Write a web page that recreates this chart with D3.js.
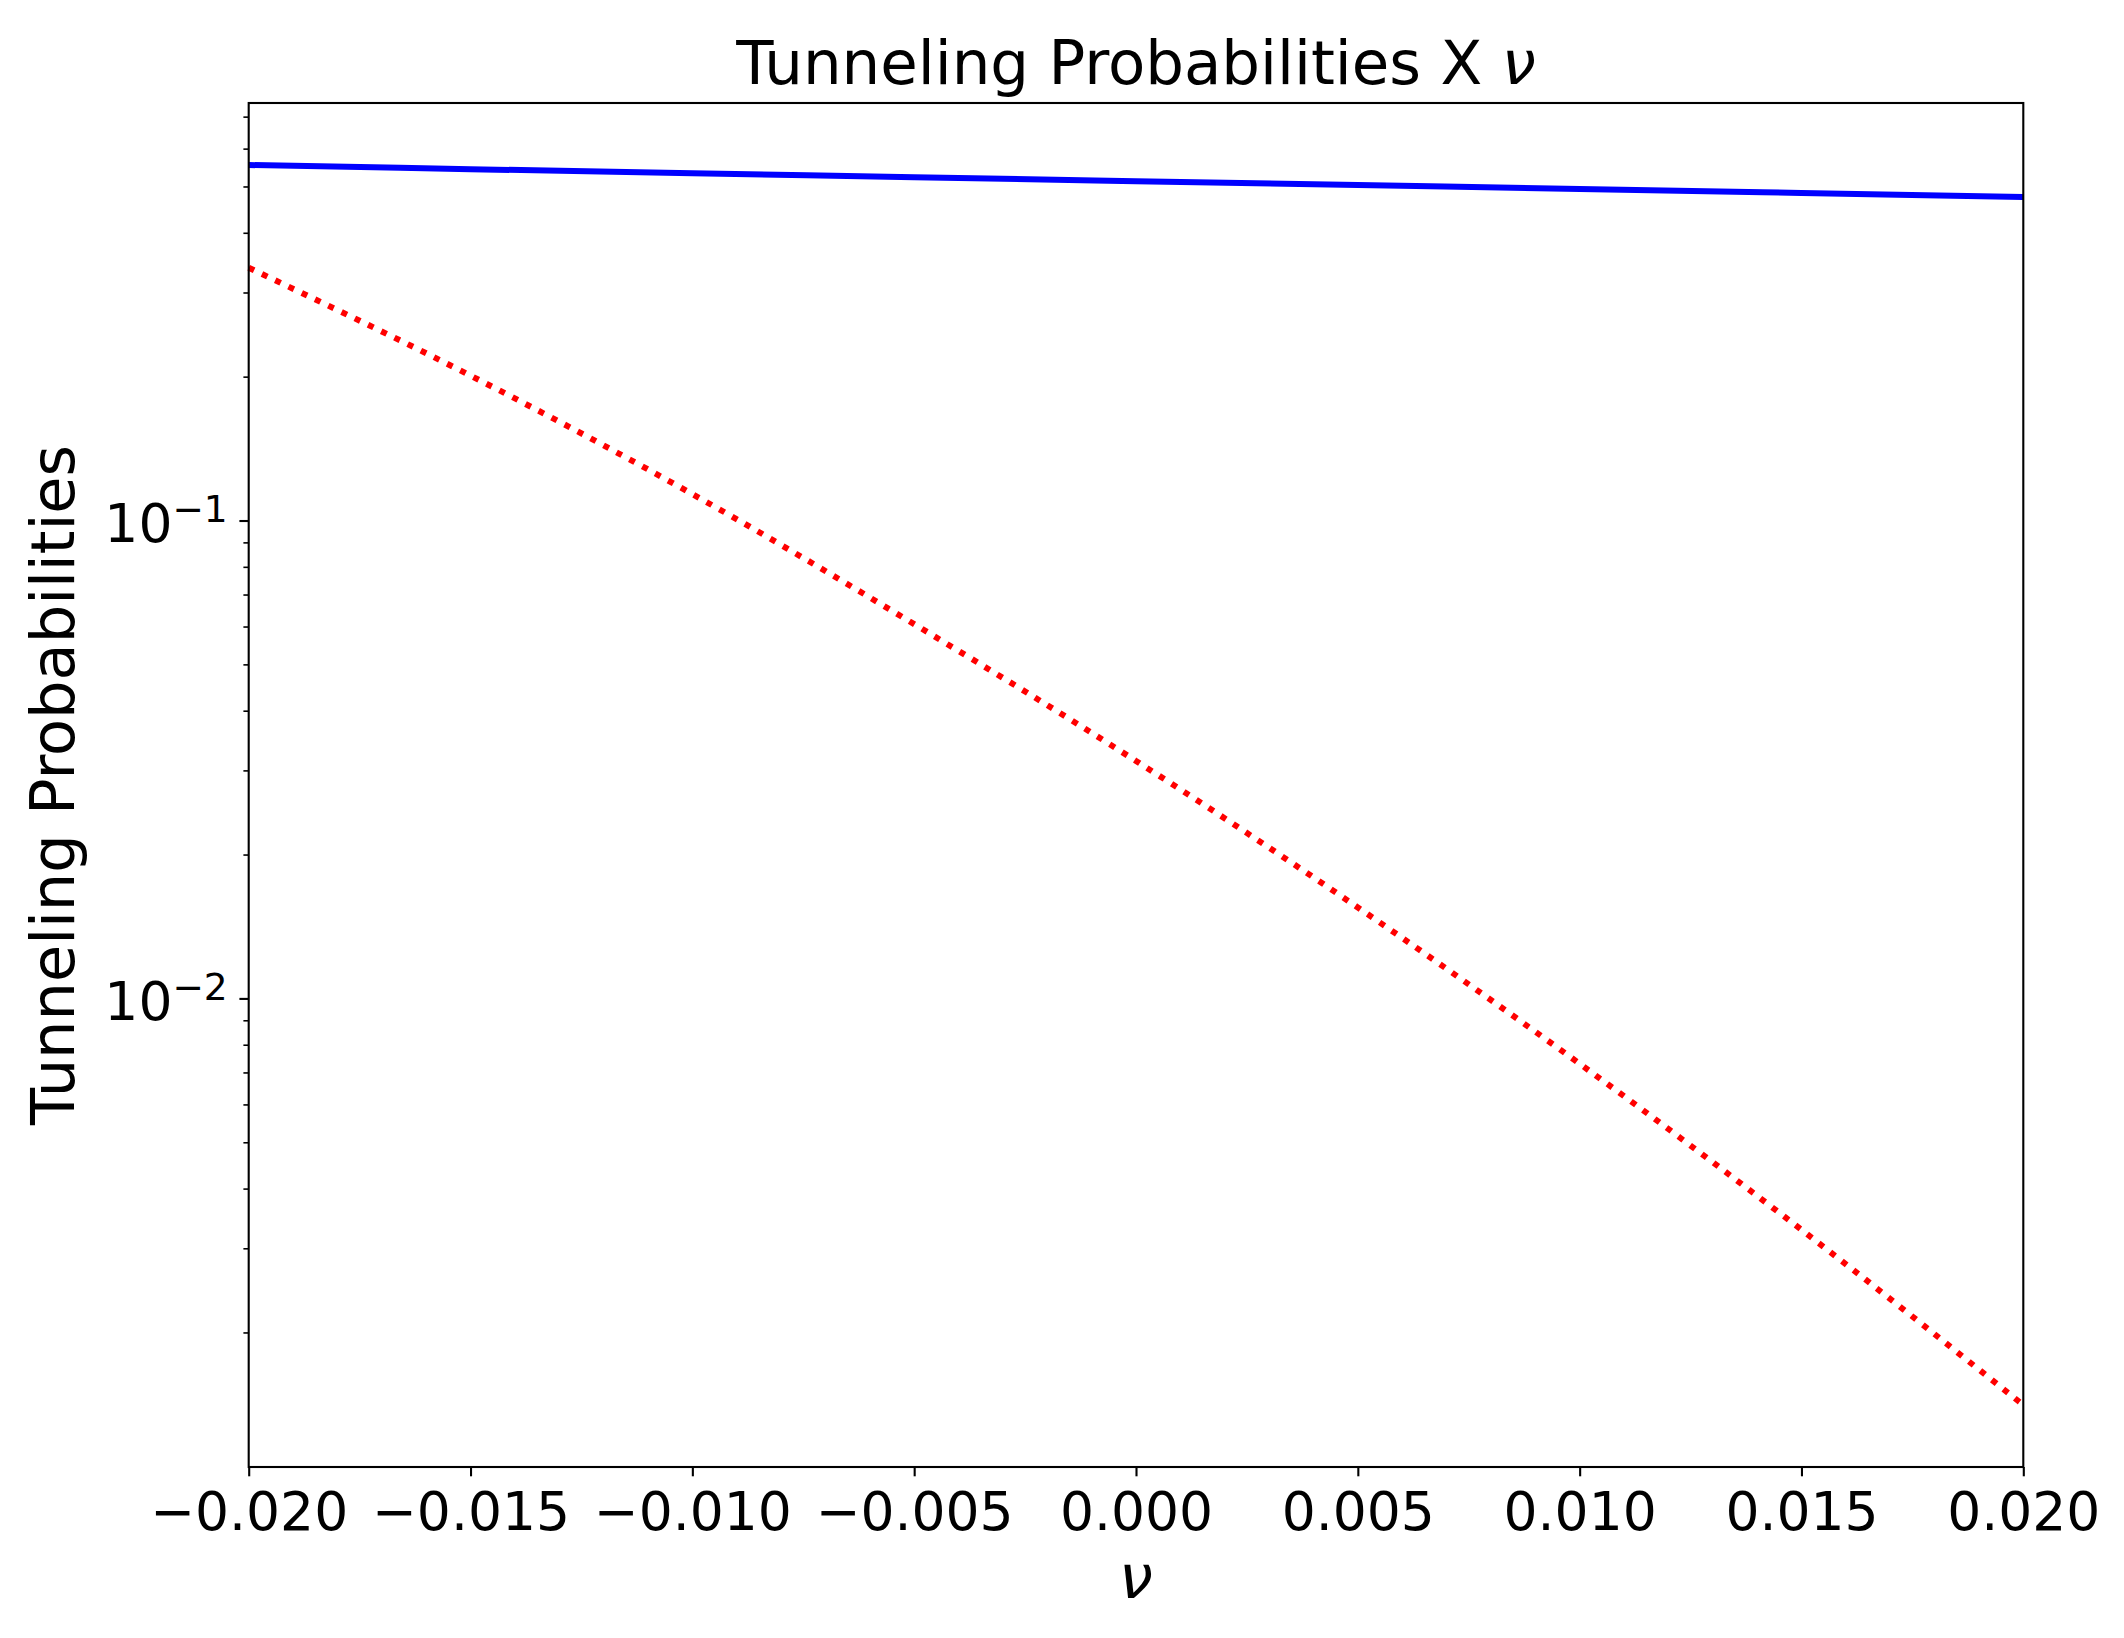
<!DOCTYPE html>
<html>
<head>
<meta charset="utf-8">
<script src="https://cdn.jsdelivr.net/npm/d3@7"></script>
<style>
  html, body { margin: 0; padding: 0; background: #ffffff; }
  svg { display: block; }
  text { font-family: "DejaVu Sans", sans-serif; fill: #000; }
</style>
</head>
<body>
<svg id="chart" width="2124" height="1638"></svg>
<script>
// ---- data ----
const nu = [-0.02, -0.015, -0.01, -0.005, 0.0, 0.005, 0.01, 0.015, 0.02];
const probSolid = [0.5545, 0.5435, 0.533, 0.523, 0.513, 0.5035, 0.494, 0.4845, 0.4755];
const probDotted = [0.338, 0.201, 0.1136, 0.0607, 0.0314, 0.0155, 0.0073, 0.00328, 0.00141];
const xTickValues = [-0.02, -0.015, -0.01, -0.005, 0.0, 0.005, 0.01, 0.015, 0.02];
const yMajorTicks = [0.01, 0.1];
const yMajorExponents = ["−2", "−1"];
const titleText = "Tunneling Probabilities X ";
const yLabelText = "Tunneling Probabilities";
const nuSymbol = "ν";

// ---- layout ----
const W = 2124, H = 1638;
const plot = { left: 248.7, right: 2023.3, top: 103, bottom: 1467 };
const svg = d3.select("#chart");

// ---- scales ----
const x = d3.scaleLinear().domain([-0.02, 0.02]).range([plot.left, plot.right]);
const allVals = probSolid.concat(probDotted);
const lmin = Math.log10(d3.min(allVals)), lmax = Math.log10(d3.max(allVals));
const marg = 0.05 * (lmax - lmin);
const y = d3.scaleLog()
  .domain([Math.pow(10, lmin - marg), Math.pow(10, lmax + marg)])
  .range([plot.bottom, plot.top]);

// minor ticks on log axis
const [dLo, dHi] = y.domain();
const yMinorTicks = [];
for (let e = Math.floor(Math.log10(dLo)); e <= Math.ceil(Math.log10(dHi)); e++) {
  for (let m = 2; m <= 9; m++) {
    const v = m * Math.pow(10, e);
    if (v >= dLo && v <= dHi) yMinorTicks.push(v);
  }
}

// ---- lines ----
const line = d3.line()
  .x(d => x(d[0]))
  .y(d => y(d[1]))
  .curve(d3.curveMonotoneX);

svg.append("path")
  .datum(nu.map((v, i) => [v, probSolid[i]]))
  .attr("d", line)
  .attr("fill", "none")
  .attr("stroke", "#0000ff")
  .attr("stroke-width", 6);

svg.append("path")
  .datum(nu.map((v, i) => [v, probDotted[i]]))
  .attr("d", line)
  .attr("fill", "none")
  .attr("stroke", "#ff0000")
  .attr("stroke-width", 6)
  .attr("stroke-linecap", "butt")
  .attr("stroke-dasharray", "6,8.7");

// ---- axes ----
const xAxis = d3.axisBottom(x)
  .tickValues(xTickValues)
  .tickSize(9.3)
  .tickFormat(d => d3.format(".3f")(d).replace("-", "−"));
const gx = svg.append("g")
  .attr("transform", `translate(0,${plot.bottom})`)
  .call(xAxis);
gx.select(".domain").remove();
gx.selectAll(".tick line").attr("stroke", "#000").attr("stroke-width", 2.1);
gx.selectAll(".tick text")
  .attr("y", 63).attr("dy", null)
  .attr("font-size", 53.5)
  .attr("font-family", "DejaVu Sans")
  .attr("fill", "#000");

const yMinorAxis = d3.axisLeft(y).tickValues(yMinorTicks).tickSize(5.3).tickFormat("");
const gyMinor = svg.append("g")
  .attr("transform", `translate(${plot.left},0)`)
  .call(yMinorAxis);
gyMinor.select(".domain").remove();
gyMinor.selectAll(".tick line").attr("stroke", "#000").attr("stroke-width", 1.6);

const yAxis = d3.axisLeft(y).tickValues(yMajorTicks).tickSize(9.3).tickFormat(() => "");
const gy = svg.append("g")
  .attr("transform", `translate(${plot.left},0)`)
  .call(yAxis);
gy.select(".domain").remove();
gy.selectAll(".tick line").attr("stroke", "#000").attr("stroke-width", 2.1);
gy.selectAll(".tick text").each(function(d) {
  const t = d3.select(this);
  t.text(null)
    .attr("x", -21).attr("y", 21).attr("dy", null)
    .attr("text-anchor", "end")
    .attr("font-size", 53.5)
    .attr("font-family", "DejaVu Sans")
    .attr("fill", "#000");
  t.append("tspan").text("10");
  t.append("tspan").attr("font-size", 37.5).attr("dy", -20).text(yMajorExponents[yMajorTicks.indexOf(d)]);
});

// ---- frame ----
svg.append("rect")
  .attr("x", plot.left).attr("y", plot.top)
  .attr("width", plot.right - plot.left)
  .attr("height", plot.bottom - plot.top)
  .attr("fill", "none")
  .attr("stroke", "#000")
  .attr("stroke-width", 2.1);

// ---- labels ----
const title = svg.append("text")
  .attr("x", (plot.left + plot.right) / 2)
  .attr("y", 84)
  .attr("text-anchor", "middle")
  .attr("font-size", 61);
title.append("tspan").text(titleText);
title.append("tspan").attr("font-style", "italic").text(nuSymbol);

svg.append("text")
  .attr("transform", `translate(74,${(plot.top + plot.bottom) / 2}) rotate(-90)`)
  .attr("text-anchor", "middle")
  .attr("font-size", 60.6)
  .text(yLabelText);

svg.append("text")
  .attr("x", (plot.left + plot.right) / 2)
  .attr("y", 1598)
  .attr("text-anchor", "middle")
  .attr("font-size", 60.6)
  .attr("font-style", "italic")
  .text(nuSymbol);
</script>
</body>
</html>
